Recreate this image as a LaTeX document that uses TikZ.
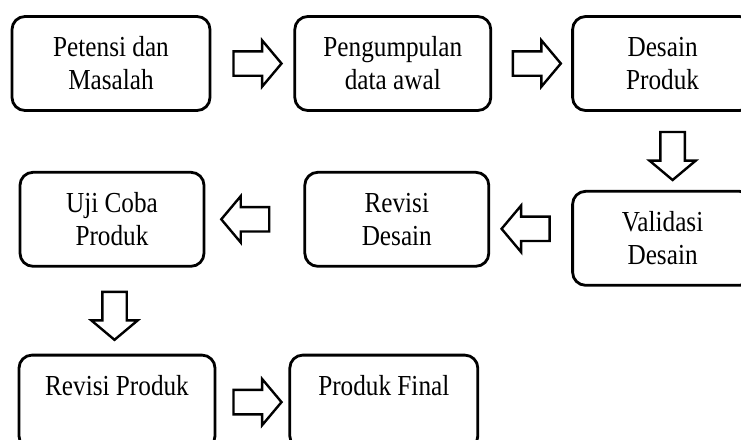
\documentclass[tikz,border=0pt]{standalone}
\usepackage{fontspec}
\setmainfont{Liberation Serif}
\newfontfamily\boxfont{Liberation Serif}[FakeStretch=0.87]
\usepackage{tikz}
\usetikzlibrary{shapes.arrows, positioning, calc}

\begin{document}
\begin{tikzpicture}[
    x=1pt, y=-1pt,
    box/.style={rectangle, draw, line width=2.8pt, rounded corners=13pt, minimum width=#1, minimum height=94pt, align=center, font=\boxfont\fontsize{29}{33}\selectfont},
    box/.default=196pt,
    blockarrow/.style={single arrow, draw, line width=2.4pt, fill=white, minimum height=48pt, inner xsep=0pt, inner ysep=11pt, single arrow head extend=11pt, single arrow tip angle=100, rotate=#1},
    blockarrow/.default=0
]
    \useasboundingbox (0,0) rectangle (741,439);

    \node[box=198pt] (potensi) at (111,63.5) {Petensi dan\\Masalah};
    \node[box=196pt, right=82pt of potensi] (pengumpulan) {Pengumpulan\\data awal};
    \node[box=180pt, right=79pt of pengumpulan] (desain) {Desain\\Produk};
    \node[box=180pt, below=78pt of desain] (validasi) {Validasi\\Desain};
    \node[box=184pt, left=81pt of validasi, yshift=19pt] (revdesain) {Revisi\\Desain};
    \node[box=184pt, left=98pt of revdesain] (ujicoba) {Uji Coba\\Produk};
    \node[box=196pt, below=86pt of ujicoba, xshift=5pt] (revproduk) {Revisi Produk\\\mbox{}};
    \node[box=188pt, right=72pt of revproduk] (final) {Produk Final\\\mbox{}};

    \node[blockarrow] (a1) at ($(potensi.east)!0.5!(pengumpulan.west)$) {};
    \node[blockarrow] (a2) at ($(pengumpulan.east)!0.5!(desain.west)$) {};
    \node[blockarrow=-90] (a3) at ($(desain.south)!0.5!(validasi.north)+(10,0)$) {};
    \node[blockarrow=180] (a4) at ($(revdesain.east)!0.5!(validasi.west)$) {};
    \node[blockarrow=180] (a5) at ($(ujicoba.east)!0.5!(revdesain.west)+(-4,0)$) {};
    \node[blockarrow=-90] (a6) at ($(ujicoba.south)!0.5!(revproduk.north)$) {};
    \node[blockarrow] (a7) at ($(revproduk.east)!0.5!(final.west)$) {};
\end{tikzpicture}
\end{document}
